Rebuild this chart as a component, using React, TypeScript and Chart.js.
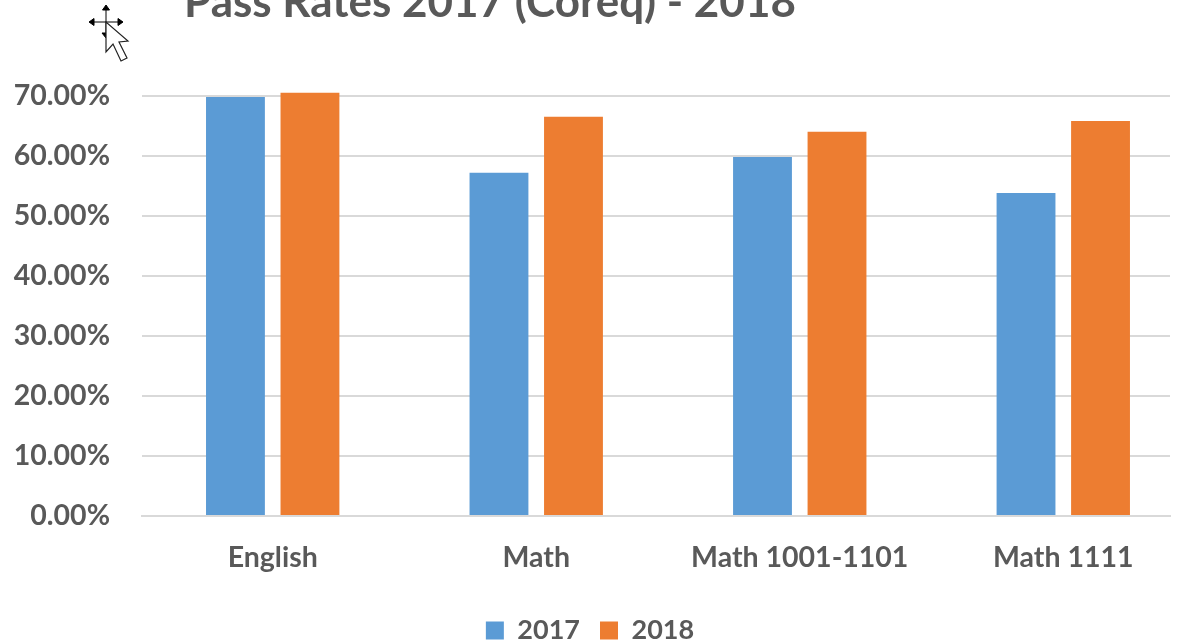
import React, { useEffect, useRef } from "react";
import { Chart, registerables } from "chart.js";

Chart.register(...registerables);

const categories = ["English", "Math", "Math 1001-1101", "Math 1111"];
const values2017 = [0.698, 0.572, 0.598, 0.538];
const values2018 = [0.705, 0.665, 0.64, 0.658];
const seriesNames = ["2017", "2018"];
const chartTitle = "Pass Rates 2017 (Coreq) - 2018";
const FONT = "Lato, 'Open Sans', sans-serif";
const GREY = "#595959";

const titleShift = {
  id: "titleShift",
  afterLayout(chart: any) {
    chart.titleBlock.left = 0;
    chart.titleBlock.right = 980;
  },
};

export default function App() {
  const ref = useRef<HTMLCanvasElement>(null);
  useEffect(() => {
    const chart = new Chart(ref.current!, {
      type: "bar",
      data: {
        labels: categories,
        datasets: [
          {
            label: seriesNames[0],
            data: values2017.map((y, x) => ({ x, y })),
            backgroundColor: "#5B9BD5",
            barPercentage: 0.79,
            categoryPercentage: 0.5655,
            clip: false,
          },
          {
            label: seriesNames[1],
            data: values2018.map((y, x) => ({ x, y })),
            backgroundColor: "#ED7D31",
            barPercentage: 0.79,
            categoryPercentage: 0.5655,
            clip: false,
          },
        ],
      },
      options: {
        animation: false,
        responsive: false,
        layout: { padding: { left: 10, right: 13, top: 0, bottom: -13 } },
        plugins: {
          title: {
            display: true,
            text: chartTitle,
            color: GREY,
            font: { family: FONT, size: 44, weight: "bold" },
            padding: { top: -24, bottom: 67 },
          },
          legend: {
            position: "bottom",
            labels: {
              color: GREY,
              font: { family: FONT, size: 27, weight: "bold" },
              boxWidth: 18,
              boxHeight: 18,
              padding: 20,
            },
          },
          tooltip: { enabled: false },
        },
        scales: {
          x: {
            type: "linear",
            offset: false,
            min: -0.496,
            max: 3.405,
            afterFit: (s: any) => {
              s.height = 81;
            },
            afterBuildTicks: (s: any) => {
              s.ticks = categories.map((_, value) => ({ value }));
            },
            grid: { display: false },
            border: { color: "#D9D9D9", width: 2 },
            ticks: {
              color: GREY,
              font: { family: FONT, size: 28.5, weight: "bold" },
              padding: 17,
              maxRotation: 0,
              autoSkip: false,
              callback: (v: any) => categories[Number(v)],
            },
          },
          y: {
            min: 0,
            max: 0.7,
            afterFit: (s: any) => {
              s.width = 132;
            },
            grid: { color: "#D9D9D9", lineWidth: 2, drawTicks: false },
            border: { display: false },
            ticks: {
              stepSize: 0.1,
              color: GREY,
              padding: 32,
              font: { family: FONT, size: 28.5, weight: "bold" },
              callback: (v: any) => (Number(v) * 100).toFixed(2) + "%",
            },
          },
        },
      },
      plugins: [titleShift],
    } as any);
    return () => chart.destroy();
  }, []);
  return (
    <div style={{ position: "fixed", left: 0, top: 0, width: 1183, height: 641, overflow: "hidden", background: "#fff" }}>
      <canvas ref={ref} width={1183} height={641} style={{ display: "block" }} />
      <svg width={60} height={70} viewBox="0 0 60 70" style={{ position: "absolute", left: 80, top: 0 }}>
        <g fill="#000" stroke="#000" strokeWidth={1}>
          <path d="M26 9V33M10 22H42" fill="none" />
          <path d="M26 5l-3.5 5h7zM9 22l5-3.5v7zM43 22l-5-3.5v7zM22 33h8l-4 5z" />
        </g>
        <path d="M26 22V52L33 44L41 61L47 58L39 42L48 41Z" fill="#fff" stroke="#222" strokeWidth={1.2} />
      </svg>
    </div>
  );
}
